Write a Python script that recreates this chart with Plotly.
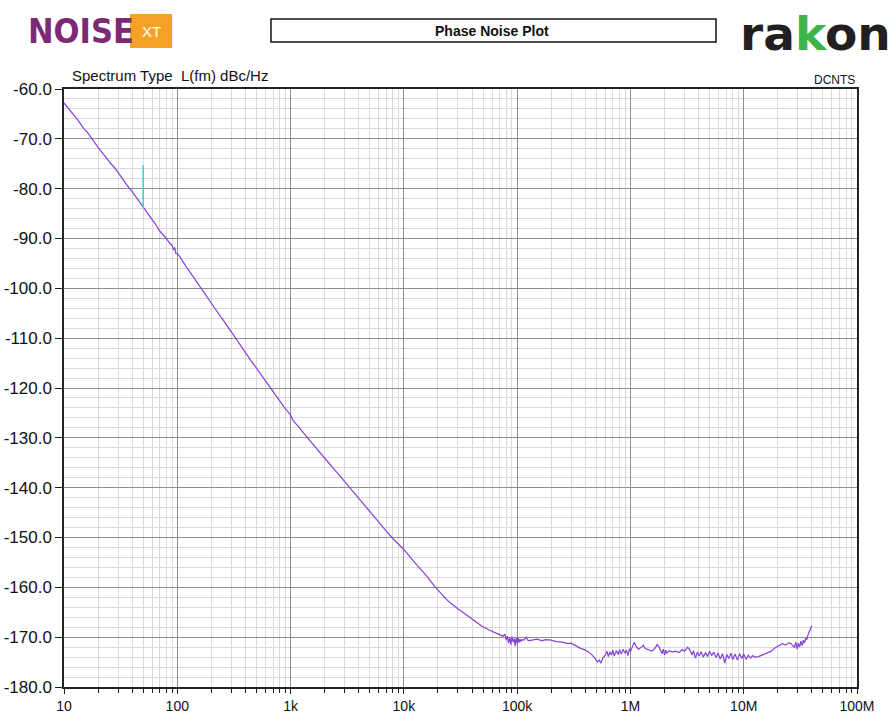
import plotly.graph_objects as go

# ---------------- data ----------------
freq_hz = [
    10, 11, 12, 13, 14, 15, 16, 17, 18, 20, 22, 24, 26, 28, 30, 33, 36, 40, 44, 48,
    50, 52, 56, 60, 65, 70, 75, 80, 85, 90, 93, 95, 97, 100, 105, 110, 120, 130, 140, 150,
    170, 200, 230, 260, 300, 350, 400, 450, 500, 600, 700, 800, 900, 950, 1000, 1050, 1100,
    1200, 1400, 1600, 1800, 2000, 2300, 2600, 3000, 3500, 4000, 4500, 5000, 6000, 7000,
    8000, 9000, 10000,
    12e3, 14e3, 16e3, 19e3, 22e3, 25e3, 30e3, 36e3, 42e3, 49e3, 56e3, 63e3, 70e3, 75e3,
    78e3, 80e3, 82e3, 84e3, 86e3, 88e3, 90e3, 92e3, 94e3, 96e3, 98e3, 100e3, 102e3, 104e3,
    106e3, 108e3, 110e3,
    115e3, 120e3, 125e3, 135e3, 150e3, 165e3, 180e3, 200e3, 220e3, 250e3, 280e3, 300e3,
    330e3, 360e3, 400e3, 430e3, 460e3, 490e3, 510e3, 530e3, 550e3, 570e3, 600e3,
    620e3, 640e3, 660e3, 680e3, 700e3, 720e3, 750e3, 780e3, 800e3, 830e3, 860e3, 890e3,
    920e3, 950e3, 980e3, 1.0e6,
    1.05e6, 1.08e6, 1.12e6, 1.18e6, 1.25e6, 1.3e6, 1.35e6, 1.45e6, 1.55e6, 1.65e6, 1.72e6,
    1.78e6, 1.85e6,
    1.9e6, 1.95e6, 2.0e6, 2.05e6, 2.1e6, 2.2e6,
    2.35e6, 2.5e6, 2.7e6, 2.85e6, 3.0e6, 3.2e6, 3.35e6,
    3.5e6, 3.6e6, 3.75e6, 3.9e6, 4.05e6, 4.2e6, 4.4e6, 4.6e6, 4.8e6, 5.0e6, 5.2e6, 5.45e6,
    5.7e6, 5.95e6, 6.2e6, 6.5e6, 6.8e6, 7.1e6, 7.4e6, 7.7e6, 8.0e6, 8.4e6, 8.8e6, 9.2e6,
    9.6e6, 10e6, 10.5e6, 11e6, 11.5e6, 12e6, 12.5e6,
    13.5e6, 14.5e6, 16e6, 17.5e6, 19e6, 20.5e6, 22e6, 23.5e6, 25e6, 26.5e6,
    28e6, 28.8e6, 29.6e6, 30.4e6, 31.2e6, 32e6, 32.8e6, 33.6e6, 34.4e6, 35.2e6, 36e6,
    37e6, 38e6, 39e6, 40e6,
]
phase_noise_dbc = [
    -62.8, -63.9, -65.1, -66.0, -67.0, -68.0, -68.6, -69.5, -70.3, -71.7, -72.9, -74.1,
    -75.0, -75.8, -76.8, -78.0, -79.3, -80.6, -81.9, -83.3,
    -83.9, -84.4, -85.4, -86.3, -87.3, -88.5, -89.2, -90.0, -90.8, -91.4, -92.3, -91.8,
    -93.0, -93.0, -93.6, -94.4, -95.7, -96.8, -97.9, -98.8,
    -100.7, -103.0, -105.0, -106.7, -108.8, -111.0, -112.9, -114.6, -116.0, -118.6, -120.8,
    -122.6, -124.2, -124.8, -125.4, -126.5, -127.0,
    -128.0, -129.9, -131.4, -132.8, -134.0, -135.7, -137.1, -138.8, -140.6, -142.1, -143.6,
    -144.8, -146.9, -148.7, -150.2, -151.4, -152.4,
    -154.6, -156.3, -157.8, -160.0, -161.6, -162.9, -164.3, -165.6, -166.7, -167.8, -168.5,
    -169.0, -169.5, -169.8,
    -169.4, -170.6, -169.8, -171.2, -170.0, -171.5, -169.9, -171.0, -170.3, -171.8, -170.1,
    -171.3, -170.0, -171.1, -170.4, -170.9, -170.5,
    -170.6, -170.0, -170.7, -170.6, -170.4, -170.7, -170.5, -170.6, -170.9, -171.0, -171.3,
    -171.2, -171.8, -172.2, -172.6, -173.0, -173.6, -174.3, -175.0, -174.6, -175.2, -174.2,
    -173.6,
    -172.8, -173.9, -172.9, -173.6, -172.6, -173.8, -172.7, -173.5, -172.5, -173.4, -172.4,
    -173.2, -172.6, -173.7, -172.3, -172.9,
    -171.6, -171.0, -171.8, -172.4, -172.0, -171.6, -172.3, -172.5, -172.8, -172.2, -171.5,
    -171.9, -172.8,
    -173.3, -172.4, -173.6, -172.6, -173.2, -172.7,
    -173.0, -172.8, -173.1, -172.5, -172.8, -172.0, -172.6,
    -173.6, -172.7, -174.2, -173.0, -173.8, -172.9, -174.0, -173.1, -173.9, -172.8, -173.7,
    -173.0, -174.1, -173.2, -174.4, -173.3, -175.2, -173.5, -174.3, -173.2, -174.5, -173.4,
    -174.6, -173.3, -174.3, -173.4, -174.5, -173.6, -174.2, -173.7, -174.0,
    -173.9, -173.6, -173.2, -172.8, -172.1, -171.6, -171.3, -171.6, -171.1, -171.4,
    -172.1, -171.0, -172.4, -171.2, -172.0, -170.8, -171.7, -170.6, -171.2, -170.2, -170.5,
    -169.5, -169.0, -168.2, -167.7,
]

spur_freq_hz = [50, 50]
spur_dbc = [-75.3, -84.0]

x_major_vals = [10, 100, 1e3, 1e4, 1e5, 1e6, 1e7, 1e8]
x_major_text = ["10", "100", "1k", "10k", "100k", "1M", "10M", "100M"]
x_minor_vals = [m * d for d in [10, 100, 1e3, 1e4, 1e5, 1e6, 1e7] for m in range(2, 10)]

y_major_vals = [-180, -170, -160, -150, -140, -130, -120, -110, -100, -90, -80, -70, -60]
y_major_text = ["-180.0", "-170.0", "-160.0", "-150.0", "-140.0", "-130.0", "-120.0",
                "-110.0", "-100.0", "-90.0", "-80.0", "-70.0", "-60.0"]

# ---------------- figure ----------------
fig = go.Figure()
fig.add_trace(go.Scatter(
    x=freq_hz, y=phase_noise_dbc, mode="lines",
    line=dict(color="#8640d6", width=1.2), showlegend=False, hoverinfo="x+y"))
fig.add_trace(go.Scatter(
    x=spur_freq_hz, y=spur_dbc, mode="lines",
    line=dict(color="#3ed4cf", width=1.6), showlegend=False))

FONT = "Liberation Sans, Arial, sans-serif"

fig.update_xaxes(
    type="log", range=[1, 8], automargin=False,
    tickmode="array", tickvals=x_major_vals, ticktext=x_major_text,
    ticks="outside", ticklen=5, tickcolor="#222", tickwidth=1,
    showgrid=True, gridcolor="#8f8f8f", gridwidth=1,
    showline=True, linecolor="#222", linewidth=1.5, mirror=True,
    zeroline=False,
    tickfont=dict(family=FONT, size=14, color="#111"),
    minor=dict(tickmode="array", tickvals=x_minor_vals, showgrid=True,
               gridcolor="#dadada", gridwidth=1, ticks="outside", ticklen=4,
               tickcolor="#222"),
)
fig.update_yaxes(
    range=[-180, -60], automargin=False,
    tickmode="array", tickvals=y_major_vals, ticktext=y_major_text,
    ticks="outside", ticklen=7, tickcolor="#222", tickwidth=1,
    showgrid=True, gridcolor="#8f8f8f", gridwidth=1,
    showline=True, linecolor="#222", linewidth=1.5, mirror=True,
    zeroline=False,
    tickfont=dict(family=FONT, size=17, color="#111"),
    minor=dict(dtick=2, showgrid=True, gridcolor="#dadada", gridwidth=1),
)

W, H = 893, 713
L, R, T, B = 64, 36, 89, 26
pw, ph = W - L - R, H - T - B

def px(xp):
    return (xp - L) / pw

def py(yp):
    return (H - B - yp) / ph

shapes = [
    # title box
    dict(type="rect", xref="paper", yref="paper", x0=px(271), x1=px(716),
         y0=py(42), y1=py(19), line=dict(color="#111", width=1.5), fillcolor="white"),
    # XT orange box
    dict(type="rect", xref="paper", yref="paper", x0=px(130), x1=px(172),
         y0=py(48), y1=py(14), line=dict(width=0), fillcolor="#f4a126"),
]

annotations = [
    dict(text="Phase Noise Plot", xref="paper", yref="paper", x=px(492), y=py(30.5),
         showarrow=False, xanchor="center", yanchor="middle",
         font=dict(family=FONT, size=14, color="#111", weight="bold")),
    dict(text="NOISE", xref="paper", yref="paper", x=px(81), y=py(31),
         showarrow=False, xanchor="center", yanchor="middle",
         font=dict(family="DejaVu Sans Condensed, DejaVu Sans, sans-serif", size=34,
                   color="#7c2a74", weight="bold")),
    dict(text="XT", xref="paper", yref="paper", x=px(151), y=py(31),
         showarrow=False, xanchor="center", yanchor="middle",
         font=dict(family=FONT, size=15, color="white")),
    dict(text="ra<span style='color:#3db54a'>k</span>on", xref="paper", yref="paper",
         x=px(815), y=py(33),
         showarrow=False, xanchor="center", yanchor="middle",
         font=dict(family="DejaVu Sans, sans-serif", size=47, color="#231f20",
                   weight="bold")),
    dict(text="Spectrum Type  L(fm) dBc/Hz", xref="paper", yref="paper", x=px(70),
         y=py(76), showarrow=False, xanchor="left", yanchor="middle",
         font=dict(family=FONT, size=15, color="#111")),
    dict(text="DCNTS", xref="paper", yref="paper", x=px(857), y=py(80),
         showarrow=False, xanchor="right", yanchor="middle",
         font=dict(family=FONT, size=12, color="#111")),
]

fig.update_layout(
    width=W, height=H,
    margin=dict(l=L, r=R, t=T, b=B, pad=0),
    paper_bgcolor="white", plot_bgcolor="white",
    shapes=shapes, annotations=annotations,
    showlegend=False,
)

fig.write_html("out.html", config={"displayModeBar": False},
               post_script="document.body.style.margin='0px';document.body.style.padding='0px';")
